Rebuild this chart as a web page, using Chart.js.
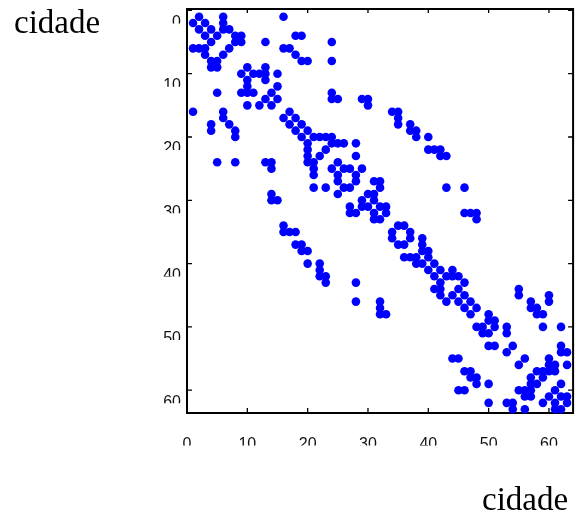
<!DOCTYPE html>
<html>
<head>
<meta charset="utf-8">
<script src="https://cdn.jsdelivr.net/npm/chart.js@4.4.1/dist/chart.umd.min.js"></script>
<style>
  html, body { margin: 0; padding: 0; background: #fff; }
</style>
</head>
<body>
<canvas id="matriz" width="576" height="522"></canvas>
<script>
// rótulos dos eixos
const rotuloEixo = 'cidade';
const ticksEixo = [0, 10, 20, 30, 40, 50, 60];

// ligações entre cidades (linha, coluna) - triângulo superior, a matriz é simétrica
const ligacoes = [
  [1, 2], [1, 6], [1, 16],
  [2, 3], [2, 6],
  [3, 4], [3, 6], [3, 7],
  [4, 5], [4, 8], [4, 9], [4, 18], [4, 19],
  [5, 8], [5, 9], [5, 13], [5, 24],
  [6, 7], [6, 16], [6, 17],
  [7, 18],
  [8, 19], [8, 20], [8, 24],
  [9, 10], [9, 13],
  [10, 11], [10, 12], [10, 13], [10, 15],
  [11, 13],
  [12, 15],
  [13, 14], [13, 24],
  [14, 15], [14, 24], [14, 25], [14, 29], [14, 30],
  [15, 30],
  [16, 17], [16, 34], [16, 35],
  [17, 18], [17, 35],
  [18, 19], [18, 35], [18, 37],
  [19, 20], [19, 37], [19, 38],
  [20, 21], [20, 22], [20, 23], [20, 24], [20, 38], [20, 40],
  [21, 24], [21, 25], [21, 26], [21, 28],
  [22, 23], [22, 40], [22, 41], [22, 42],
  [23, 28], [23, 42], [23, 43],
  [24, 25],
  [25, 26], [25, 27], [25, 29],
  [26, 28],
  [27, 28], [27, 31], [27, 32],
  [28, 32], [28, 43], [28, 46],
  [29, 30], [29, 31],
  [30, 31],
  [31, 32], [31, 33],
  [32, 33], [32, 46], [32, 47], [32, 48],
  [33, 48],
  [34, 35], [34, 36],
  [35, 37],
  [36, 37], [36, 39],
  [37, 39],
  [38, 39], [38, 40],
  [39, 40],
  [40, 41],
  [41, 42], [41, 44],
  [42, 43], [42, 44], [42, 45],
  [43, 46],
  [44, 45], [44, 55],
  [45, 46], [45, 55], [45, 60],
  [46, 47], [46, 57], [46, 60],
  [47, 48], [47, 57], [47, 58],
  [48, 50], [48, 58], [48, 59],
  [49, 50], [49, 51],
  [50, 51], [50, 53], [50, 59], [50, 62],
  [51, 53],
  [53, 54], [53, 62],
  [54, 62], [54, 63],
  [55, 56], [55, 60],
  [56, 60], [56, 61], [56, 63],
  [57, 58], [57, 59], [57, 60], [57, 61],
  [58, 59],
  [59, 62],
  [60, 61],
  [61, 62], [61, 63],
  [62, 63]
];

// cada ligação aparece nas duas posições (i,j) e (j,i)
const pontos = [];
ligacoes.forEach(function(p) {
  pontos.push({ x: p[1], y: p[0] });
  pontos.push({ x: p[0], y: p[1] });
});

// moldura, marcas e textos desenhados a partir das escalas do gráfico
const moldura = {
  id: 'moldura',
  beforeDatasetsDraw(chart) {
    const ctx = chart.ctx;
    const a = chart.chartArea;
    const x = chart.scales.x;
    const y = chart.scales.y;
    const direita = x.getPixelForValue(64);

    ctx.save();
    ctx.strokeStyle = '#000';
    ctx.lineWidth = 2;
    ctx.strokeRect(a.left, a.top, direita - a.left, a.bottom - a.top);

    ctx.lineWidth = 1.3;
    ctx.beginPath();
    ticksEixo.forEach(function(v) {
      const px = x.getPixelForValue(v);
      ctx.moveTo(px, a.bottom); ctx.lineTo(px, a.bottom - 5);
      ctx.moveTo(px, a.top); ctx.lineTo(px, a.top + 4);
      const py = y.getPixelForValue(v);
      ctx.moveTo(a.left, py); ctx.lineTo(a.left + 5, py);
      ctx.moveTo(direita, py); ctx.lineTo(direita - 5, py);
    });
    ctx.stroke();

    // números dos eixos (cortados embaixo, como no original)
    ctx.font = '16px "Liberation Sans", Arial, sans-serif';
    ctx.fillStyle = '#111';
    ctx.textBaseline = 'alphabetic';
    ticksEixo.forEach(function(v) {
      const px = x.getPixelForValue(v);
      ctx.save();
      ctx.beginPath();
      ctx.rect(px - 20, 430, 40, 15.5);
      ctx.clip();
      ctx.textAlign = 'center';
      ctx.fillText(String(v), px, 448.5);
      ctx.restore();

      const py = y.getPixelForValue(v);
      ctx.save();
      ctx.beginPath();
      ctx.rect(150, py + 3, 40, 10);
      ctx.clip();
      ctx.textAlign = 'right';
      ctx.fillText(String(v), 181, py + 16.5);
      ctx.restore();
    });

    // títulos dos eixos
    ctx.font = '33px "Liberation Serif", "Times New Roman", serif';
    ctx.fillStyle = '#000';
    ctx.textAlign = 'left';
    ctx.fillText(rotuloEixo, 14, 33);
    ctx.fillText(rotuloEixo, 482, 510);
    ctx.restore();
  }
};

const ctx = document.getElementById('matriz').getContext('2d');
const grafico = new Chart(ctx, {
  type: 'scatter',
  data: {
    datasets: [{
      data: pontos,
      backgroundColor: '#0000ff',
      borderWidth: 0,
      pointRadius: 4.3,
      pointHoverRadius: 4.3,
      clip: false
    }]
  },
  options: {
    responsive: false,
    animation: false,
    layout: { padding: { left: 187, top: 9, right: 0, bottom: 109 } },
    plugins: {
      legend: { display: false },
      tooltip: { enabled: false }
    },
    scales: {
      x: { type: 'linear', display: false, min: 0, max: 63.77 },
      y: { type: 'linear', display: false, reverse: true, min: -0.22, max: 63.6 }
    }
  },
  plugins: [moldura]
});
</script>
</body>
</html>
